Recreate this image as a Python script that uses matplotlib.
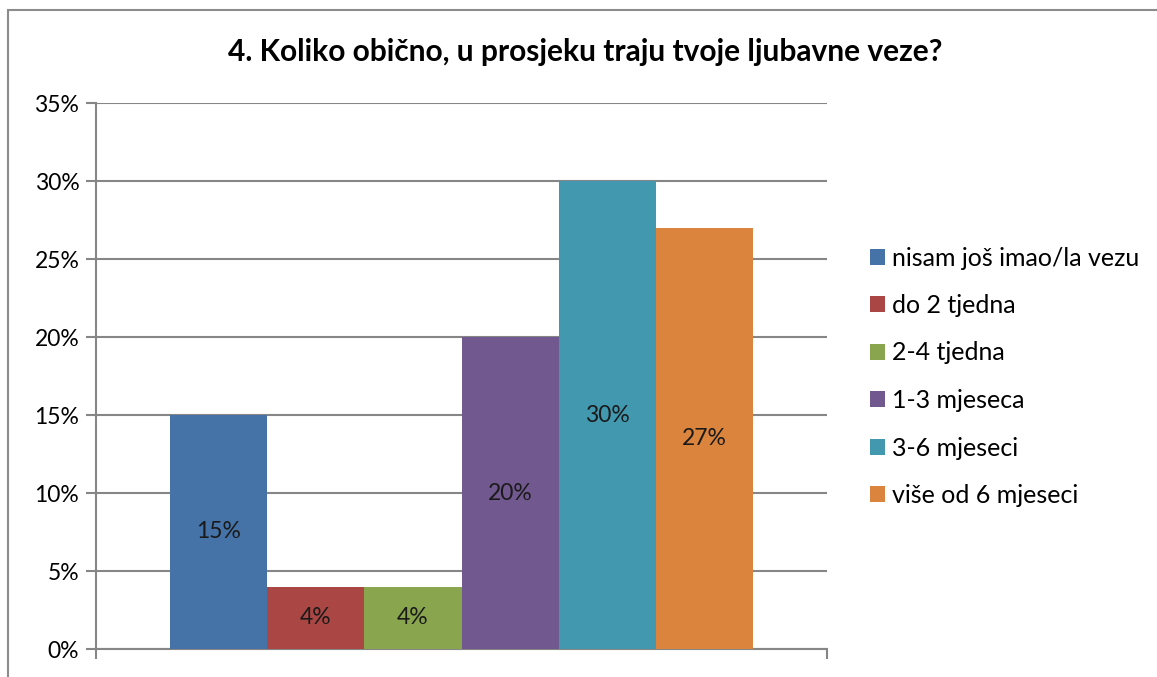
import matplotlib.pyplot as plt
from matplotlib.patches import Rectangle, Patch

categories = ["nisam još imao/la vezu", "do 2 tjedna", "2-4 tjedna",
              "1-3 mjeseca", "3-6 mjeseci", "više od 6 mjeseci"]
values = [15, 4, 4, 20, 30, 27]
colors = ["#4572A7", "#AA4643", "#89A54E", "#71588F", "#4198AF", "#DB843D"]
yticks = [0, 5, 10, 15, 20, 25, 30, 35]

plt.rcParams['font.family'] = ['Lato', 'DejaVu Sans']
W, H = 1157, 677
fig = plt.figure(figsize=(W / 100, H / 100), dpi=100)
fig.patch.set_facecolor("white")

# chart border (right/bottom edges fall outside the image)
fig.add_artist(Rectangle((8 / W, -0.05), 1.2, 1 - 10 / H + 0.05,
                         transform=fig.transFigure, fill=False,
                         edgecolor="#8c8c8c", linewidth=1.5))

ax = fig.add_axes([96 / W, 1 - 649 / H, (827 - 96) / W, (649 - 103) / H])
x = list(range(len(values)))
bars = ax.bar(x, values, width=1.0, color=colors, zorder=3)
for b, v in zip(bars, values):
    ax.text(b.get_x() + b.get_width() / 2, v / 2, f"{v}%",
            ha="center", va="center", fontsize=16.5, color="#1a1a1a", zorder=4)

pad = 74 / 97.4
ax.set_xlim(-0.5 - pad, len(values) - 0.5 + pad)
ax.set_ylim(0, 35)
ax.set_yticks(yticks)
ax.set_yticklabels([f"{t}%" for t in yticks], fontsize=16.5)
ax.set_xticks([-0.5 - pad, len(values) - 0.5 + pad])
ax.set_xticklabels([])
ax.tick_params(axis="y", length=7, width=1.5, color="#868686", pad=5)
ax.tick_params(axis="x", length=7, width=1.5, color="#868686")
ax.yaxis.grid(True, color="#868686", linewidth=1.5, zorder=0)
for s in ["top", "right"]:
    ax.spines[s].set_visible(False)
for s in ["left", "bottom"]:
    ax.spines[s].set_color("#868686")
    ax.spines[s].set_linewidth(1.5)

fig.text(585 / W, 1 - 52 / H, "4. Koliko obično, u prosjeku traju tvoje ljubavne veze?",
         ha="center", va="center", fontsize=21.5, fontweight="bold")

handles = [Patch(facecolor=c) for c in colors]
fig.legend(handles, categories, loc="upper left",
           bbox_to_anchor=(857 / W, 1 - 234 / H), frameon=False,
           fontsize=18, handlelength=0.6, handleheight=0.6,
           handletextpad=0.3, labelspacing=0.98, borderpad=0)

fig.savefig("out.png", dpi=100)
